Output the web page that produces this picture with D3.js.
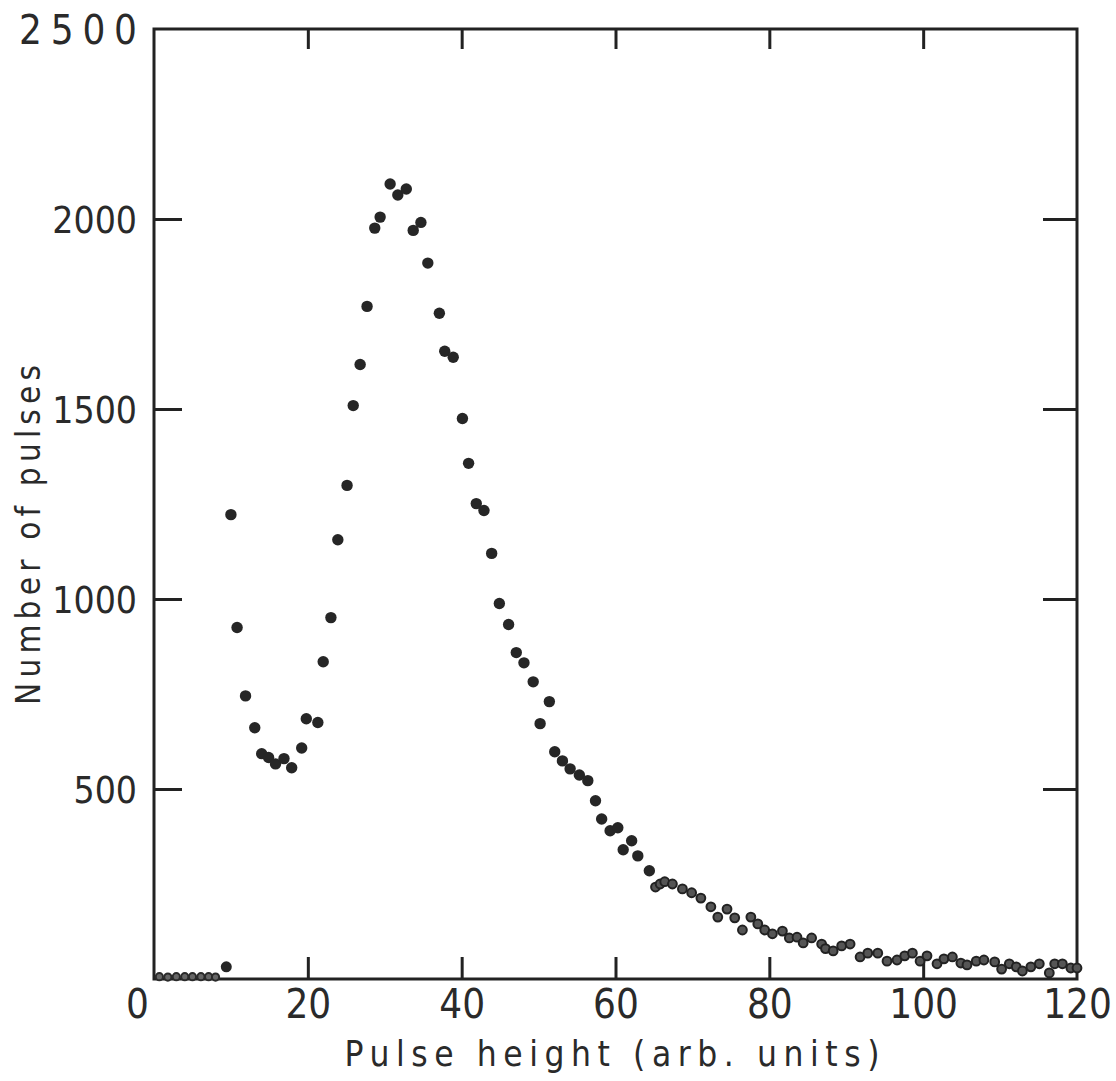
<!DOCTYPE html>
<meta charset="utf-8">

<!-- Load d3.js -->
<script src="https://d3js.org/d3.v7.min.js"></script>

<style>
body {
	margin: 0;
	background: #fff;
}
</style>

<div id="my_dataviz"></div>

<script>

	// low channels, just above the threshold
	const low_channel = [0.7, 1.8, 2.9, 4.0, 5.0, 6.1, 7.1, 8.0, 9.4]
	const low_counts = [6, 5, 6, 6, 6, 6, 6, 5, 32]

	// main peak
	const peak_channel = [10.0, 10.8, 11.9, 13.1, 14.0, 14.9, 15.8, 16.9, 17.9, 19.2,
		19.8, 21.3, 22.0, 23.0, 23.9, 25.1, 25.9, 26.8, 27.7, 28.7,
		29.4, 30.7, 31.7, 32.8, 33.7, 34.7, 35.6, 37.1, 37.8, 38.9,
		40.1, 40.9, 41.9, 42.9, 43.9, 44.9, 46.1, 47.1, 48.1, 49.3,
		50.2, 51.4, 52.1, 53.1, 54.1, 55.3, 56.4, 57.4, 58.2, 59.3,
		60.3, 61.0, 62.1, 62.9, 64.4]
	const peak_counts = [1222, 925, 745, 661, 593, 583, 566, 580, 556, 608,
		685, 675, 835, 951, 1156, 1299, 1509, 1617, 1770, 1976,
		2005, 2092, 2063, 2079, 1970, 1991, 1884, 1752, 1652, 1636,
		1475, 1357, 1251, 1233, 1120, 988, 933, 859, 832, 782,
		672, 730, 598, 574, 553, 537, 522, 469, 421, 390,
		398, 340, 364, 324, 285]

	// long tail
	const tail_channel = [65.2, 65.8, 66.4, 67.4, 68.7, 69.9, 71.1, 72.4, 73.3, 74.5,
		75.5, 76.5, 77.6, 78.5, 79.4, 80.4, 81.7, 82.6, 83.6, 84.4,
		85.5, 86.8, 87.3, 88.3, 89.4, 90.5, 91.8, 92.8, 94.1, 95.3,
		96.6, 97.6, 98.6, 99.6, 100.5, 101.8, 102.7, 103.8, 104.9, 105.7,
		106.9, 107.9, 109.3, 110.2, 111.2, 112.1, 112.9, 114.0, 115.1, 116.4,
		117.1, 118.1, 119.2, 120.0]
	const tail_counts = [242, 250, 256, 250, 237, 227, 213, 190, 163, 184,
		161, 129, 163, 145, 129, 119, 126, 108, 110, 95,
		108, 92, 80, 74, 87, 92, 58, 68, 68, 47,
		50, 61, 68, 47, 61, 40, 53, 58, 42, 37,
		47, 50, 45, 26, 40, 32, 21, 32, 40, 16,
		40, 40, 29, 29]

	const x_ticks = [0, 20, 40, 60, 80, 100, 120]
	const y_ticks = [500, 1000, 1500, 2000, 2500]

	const width = 1116,
	      height = 1081,
	      ink = '#222222',
	      text_ink = '#2a2a2a',
	      label_font = '"DejaVu Sans Condensed", "DejaVu Sans", sans-serif';

	const x = d3.scaleLinear().domain([0, 120]).range([154, 1077])
	const y = d3.scaleLinear().domain([0, 2500]).range([979, 29])

	const svg = d3.select('#my_dataviz')
		.append('svg')
		.attr('width', width)
		.attr('height', height)
		.attr('viewBox', [0, 0, width, height])

	function style_axis(size) {
		return function(g) {
			g.select('.domain').remove()
			g.selectAll('.tick line')
				.attr('stroke', ink)
				.attr('stroke-width', 3)
			g.selectAll('.tick text')
				.attr('fill', text_ink)
				.attr('font-family', label_font)
				.attr('font-size', size)
		}
	}

	// inward ticks on all four sides
	svg.append('g')
		.attr('transform', `translate(0,${y(0)})`)
		.call(d3.axisBottom(x).tickValues(x_ticks).tickFormat(d3.format('d'))
			.tickSizeInner(-22).tickSizeOuter(0).tickPadding(11))
		.call(style_axis(40))
		.call(g => g.selectAll('.tick text').attr('dx', d => d == 0 ? -17 : 0))
		.call(g => g.selectAll('.tick').filter(d => d == 0 || d == 120).select('line').remove())

	svg.append('g')
		.attr('transform', `translate(0,${y(2500)})`)
		.call(d3.axisTop(x).tickValues(x_ticks.slice(1, -1)).tickSizeInner(-20).tickSizeOuter(0).tickFormat(''))
		.call(style_axis(40))

	svg.append('g')
		.attr('transform', `translate(${x(0)},0)`)
		.call(d3.axisLeft(y).tickValues(y_ticks).tickFormat(d3.format('d'))
			.tickSizeInner(-28).tickSizeOuter(0).tickPadding(17))
		.call(style_axis(37))
		.call(g => g.selectAll('.tick').filter(d => d == 2500).select('line').remove())
		// the top label sits wider than the others
		.call(g => g.selectAll('.tick').filter(d => d == 2500).select('text')
			.attr('font-size', 40)
			.attr('textLength', 118).attr('lengthAdjust', 'spacing'))
		.call(g => g.selectAll('.tick text').attr('dy', '0.36em'))

	svg.append('g')
		.attr('transform', `translate(${x(120)},0)`)
		.call(d3.axisRight(y).tickValues(y_ticks.slice(0, -1)).tickSizeInner(-34).tickSizeOuter(0).tickFormat(''))
		.call(style_axis(37))

	// frame
	svg.append('rect')
		.attr('x', x(0))
		.attr('y', y(2500))
		.attr('width', x(120) - x(0))
		.attr('height', y(0) - y(2500))
		.attr('fill', 'none')
		.attr('stroke', ink)
		.attr('stroke-width', 3)

	function add_dots(channel, counts, r, fill, stroke) {
		svg.append('g')
			.selectAll('circle')
			.data(d3.zip(channel, counts))
			.join('circle')
			.attr('cx', d => x(d[0]))
			.attr('cy', d => y(d[1]))
			.attr('r', r)
			.attr('fill', fill)
			.attr('stroke', stroke)
			.attr('stroke-width', 2)
	}

	add_dots(low_channel.slice(0, -1), low_counts.slice(0, -1), 3.6, '#666', '#2a2a2a')
	add_dots(low_channel.slice(-1), low_counts.slice(-1), 5.5, '#262626', 'none')
	add_dots(peak_channel, peak_counts, 5.7, '#262626', 'none')
	add_dots(tail_channel, tail_counts, 4.4, '#555', '#222')

	// axis titles
	svg.append('text')
		.attr('x', 612)
		.attr('y', 1066)
		.attr('text-anchor', 'middle')
		.attr('textLength', 535)
		.attr('lengthAdjust', 'spacing')
		.attr('font-family', label_font)
		.attr('font-size', 35)
		.attr('fill', text_ink)
		.text('Pulse height (arb. units)')

	svg.append('text')
		.attr('transform', 'translate(40,535) rotate(-90)')
		.attr('text-anchor', 'middle')
		.attr('textLength', 340)
		.attr('lengthAdjust', 'spacing')
		.attr('font-family', label_font)
		.attr('font-size', 33)
		.attr('fill', text_ink)
		.text('Number of pulses')

</script>
